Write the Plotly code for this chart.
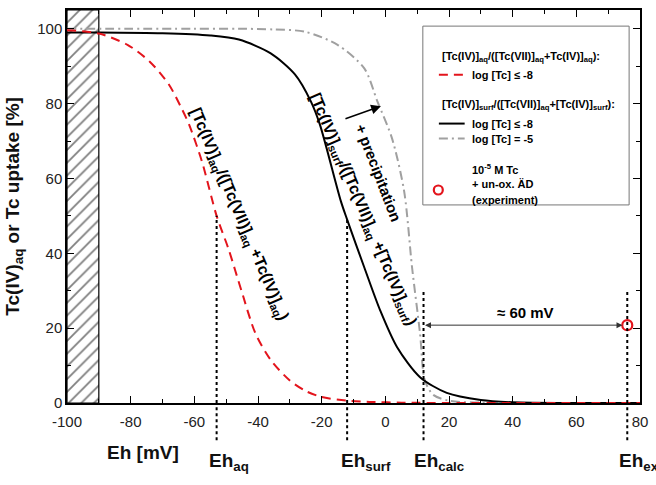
import plotly.graph_objects as go

# ---- data ----
EH_RED = [-100, -90, -81, -74, -68, -64, -61.7, -57.6, -53, -49.2, -45.2, -40.8, -36, -30, -25, -20, -12, -5, 5, 20, 40, 80]
PCT_RED = [99.6, 98.7, 95.7, 91.2, 85.1, 78.7, 74.5, 64.5, 50, 41, 30, 18.6, 11.5, 6, 3.2, 1.6, 0.6, 0.3, 0.1, 0, 0, 0]

EH_BLK = [-100, -90, -70, -55, -46, -36, -28.4, -23.4, -20.6, -14, -12, -6.6, -1.6, 3.7, 10.9, 19.3, 30, 40, 60, 80]
PCT_BLK = [99, 99, 98.8, 98.2, 97.1, 93.4, 87.8, 80.6, 74.5, 54, 49, 36.2, 24.7, 14.9, 6.9, 2.7, 0.8, 0.2, 0, 0]

EH_GRY = [-100, -60, -46, -35, -25.3, -15, -6.6, -2.5, 2.1, 5.9, 8.4, 10.9, 12.4, 15, 20, 30, 80]
PCT_GRY = [100, 100, 100, 99.8, 99.2, 95.7, 89.4, 80.6, 70.7, 56.6, 36.2, 18.6, 6.1, 2.2, 0.6, 0.1, 0]

EH_EXP = [76]
PCT_EXP = [20.8]

HATCH_EH = [-100, -90]
X_RANGE = [-100, 80]
Y_RANGE = [0, 105]
X_TICKS = [-100, -80, -60, -40, -20, 0, 20, 40, 60, 80]
X_TICKTEXT = ["-100", "-80", "-60", "-40", "-20", "0", "20", "40", "60", "80"]
Y_TICKS = [0, 20, 40, 60, 80, 100]
Y_TICKTEXT = ["0", "20", "40", "60", "80", "100"]

MARK_NAMES = ["aq", "surf", "calc", "exp"]
MARK_EH = [-53, -12, 12, 76]
MARK_TOP = [50, 49, 30, 30]
MARK_LABEL_EH = [-55.9, -14.7, 8.4, 72.8]

FONT = "Liberation Sans, Arial, sans-serif"
RED = "#e3141c"
GRAY = "#a0a0a0"

fig = go.Figure()

# hatched region
fig.add_trace(go.Scatter(
    x=[HATCH_EH[0], HATCH_EH[1], HATCH_EH[1], HATCH_EH[0], HATCH_EH[0]],
    y=[Y_RANGE[0], Y_RANGE[0], Y_RANGE[1], Y_RANGE[1], Y_RANGE[0]],
    mode="lines", fill="toself", fillcolor="white",
    fillpattern=dict(shape="/", fgcolor="black", bgcolor="white", size=9, solidity=0.2),
    line=dict(color="black", width=1.2), hoverinfo="skip", showlegend=False))

fig.add_trace(go.Scatter(x=EH_GRY, y=PCT_GRY, mode="lines", line_shape="spline",
                         line=dict(color=GRAY, width=2, dash="9px,4px,2px,4px", smoothing=0.8),
                         showlegend=False))
fig.add_trace(go.Scatter(x=EH_BLK, y=PCT_BLK, mode="lines", line_shape="spline",
                         line=dict(color="black", width=2, smoothing=0.8), showlegend=False))
fig.add_trace(go.Scatter(x=EH_RED, y=PCT_RED, mode="lines", line_shape="spline",
                         line=dict(color=RED, width=2, dash="9px,6px", smoothing=0.8), showlegend=False))
fig.add_trace(go.Scatter(x=EH_EXP, y=PCT_EXP, mode="markers",
                         marker=dict(symbol="circle-open", size=10, color=RED, line=dict(width=2.2, color=RED)),
                         showlegend=False))

shapes = []
annotations = []
# vertical dotted marker lines
for eh, top in zip(MARK_EH, MARK_TOP):
    shapes.append(dict(type="line", xref="x", yref="y", x0=eh, x1=eh, y0=0, y1=top,
                       line=dict(color="black", width=2, dash="3px,3px")))
    shapes.append(dict(type="line", xref="x", yref="paper", x0=eh, x1=eh, y0=-0.095, y1=0,
                       line=dict(color="black", width=2, dash="3px,3px")))

for name, eh in zip(MARK_NAMES, MARK_LABEL_EH):
    annotations.append(dict(x=eh, y=-0.115, xref="x", yref="paper", xanchor="left", yanchor="top",
                            text=f"<b>Eh<sub>{name}</sub></b>", showarrow=False,
                            font=dict(size=19, color="#111", family=FONT)))

annotations.append(dict(x=-88, y=-0.127, xref="x", yref="paper", xanchor="left", yanchor="middle",
                        text="<b>Eh [mV]</b>", showarrow=False, font=dict(size=19, color="#111", family=FONT)))
annotations.append(dict(x=-0.094, y=0.5, xref="paper", yref="paper", xanchor="center", yanchor="middle",
                        textangle=-90,
                        text="<b>Tc(IV)<sub>aq</sub> or Tc uptake [%]</b>", showarrow=False,
                        font=dict(size=19, color="#111", family=FONT)))

# rotated curve labels
annotations.append(dict(x=-46.0, y=50.3, xref="x", yref="y", textangle=67, showarrow=False,
                        text="<b>[Tc(IV)]<sub>aq</sub>/([Tc(VII)]<sub>aq</sub> +Tc(IV)]<sub>aq</sub>)</b>",
                        font=dict(size=16, color="black", family=FONT)))
annotations.append(dict(x=-7.2, y=51.6, xref="x", yref="y", textangle=67, showarrow=False,
                        text="<b>[Tc(IV)]<sub>surf</sub>/([Tc(VII)]<sub>aq</sub> +[Tc(IV)]<sub>surf</sub>)</b>",
                        font=dict(size=16, color="black", family=FONT)))
annotations.append(dict(x=-2.0, y=61.4, xref="x", yref="y", textangle=69, showarrow=False,
                        text="<b>+ precipitation</b>", font=dict(size=15, color="black", family=FONT)))
# precipitation arrow
annotations.append(dict(x=-1.4, y=79.3, ax=-13, ay=75.8, xref="x", yref="y", axref="x", ayref="y",
                        text="", showarrow=True, arrowhead=2, arrowsize=1.3, arrowwidth=1.5, arrowcolor="black"))
# 60 mV double arrow
annotations.append(dict(x=MARK_EH[3] - 1.5, y=PCT_EXP[0], ax=MARK_EH[2], ay=PCT_EXP[0], xref="x", yref="y",
                        axref="x", ayref="y", text="", showarrow=True, arrowhead=2, startarrowhead=2,
                        arrowside="end+start", arrowsize=1.2, startarrowsize=1.2, arrowwidth=1,
                        arrowcolor="#333"))
annotations.append(dict(x=44, y=24.2, xref="x", yref="y", text="<b>≈ 60 mV</b>", showarrow=False,
                        font=dict(size=15, color="black", family=FONT)))

# legend box (manual)
LX0, LX1, LY0, LY1 = 0.621, 0.981, 0.504, 0.959
shapes.append(dict(type="rect", xref="paper", yref="paper", x0=LX0, x1=LX1, y0=LY0, y1=LY1,
                   line=dict(color="#777", width=1), fillcolor="white", layer="above"))
TX = 0.703
lf = dict(size=11, color="black", family=FONT)
legend_rows = [
    (0.651, 0.881, "<b>[Tc(IV)]<sub>aq</sub>/([Tc(VII)]<sub>aq</sub>+Tc(IV)]<sub>aq</sub>):</b>"),
    (TX, 0.835, "<b>log [Tc] ≤ -8</b>"),
    (0.651, 0.757, "<b>[Tc(IV)]<sub>surf</sub>/([Tc(VII)]<sub>aq</sub>+[Tc(IV)]<sub>surf</sub>):</b>"),
    (TX, 0.711, "<b>log [Tc] ≤ -8</b>"),
    (TX, 0.673, "<b>log [Tc] = -5</b>"),
    (TX, 0.595, "<b>10<sup>-5</sup> M Tc</b>"),
    (TX, 0.557, "<b>+ un-ox. ÄD</b>"),
    (TX, 0.516, "<b>(experiment)</b>"),
]
for x, y, t in legend_rows:
    annotations.append(dict(x=x, y=y, xref="paper", yref="paper", xanchor="left", yanchor="middle",
                            text=t, showarrow=False, font=lf))
shapes.append(dict(type="line", xref="paper", yref="paper", x0=0.649, x1=0.694, y0=0.835, y1=0.835,
                   line=dict(color=RED, width=2, dash="9px,6px"), layer="above"))
shapes.append(dict(type="line", xref="paper", yref="paper", x0=0.649, x1=0.694, y0=0.711, y1=0.711,
                   line=dict(color="black", width=2), layer="above"))
shapes.append(dict(type="line", xref="paper", yref="paper", x0=0.649, x1=0.694, y0=0.673, y1=0.673,
                   line=dict(color=GRAY, width=2, dash="9px,4px,2px,4px"), layer="above"))
shapes.append(dict(type="circle", xref="paper", yref="paper", xsizemode="pixel", ysizemode="pixel",
                   xanchor=0.648, yanchor=0.542, x0=-4.5, x1=4.5, y0=-4.5, y1=4.5,
                   line=dict(color=RED, width=2.2), layer="above"))

axis_common = dict(showline=True, linecolor="black", linewidth=1.5, mirror="ticks", ticks="inside",
                   ticklen=7, tickwidth=1.2, tickcolor="black", showgrid=False, zeroline=False,
                   tickfont=dict(size=15, color="#222", family=FONT))
fig.update_xaxes(range=X_RANGE, tickvals=X_TICKS, ticktext=X_TICKTEXT, ticklabelstandoff=4,
                 minor=dict(dtick=10, ticks="inside", ticklen=4, tickcolor="black", tickwidth=1.2),
                 **axis_common)
fig.update_yaxes(range=Y_RANGE, tickvals=Y_TICKS, ticktext=Y_TICKTEXT,
                 minor=dict(dtick=10, ticks="inside", ticklen=4, tickcolor="black", tickwidth=1.2),
                 **axis_common)

fig.update_layout(width=656, height=485, margin=dict(l=67, r=13, t=8, b=82),
                  plot_bgcolor="white", paper_bgcolor="white", showlegend=False,
                  shapes=shapes, annotations=annotations)

fig.write_html("out.html")
